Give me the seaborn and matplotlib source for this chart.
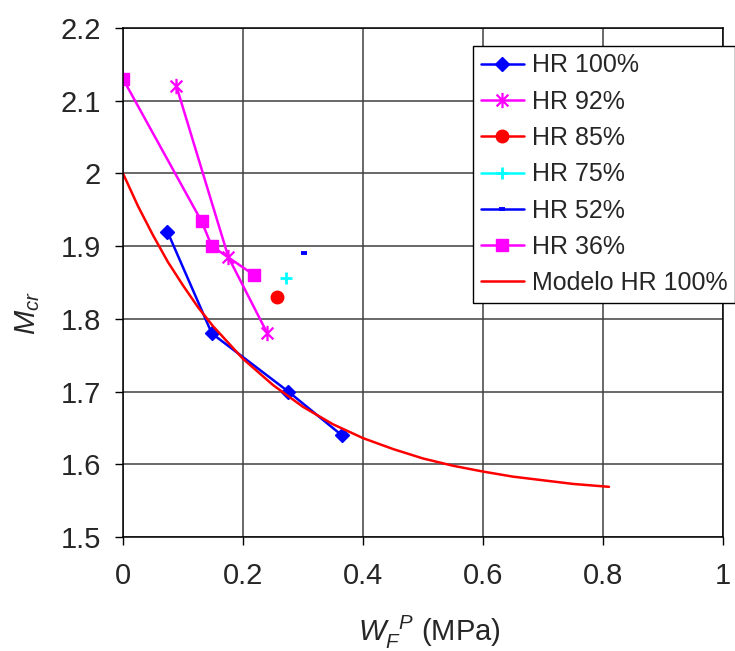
import numpy as np
import matplotlib
matplotlib.use("Agg")
import matplotlib.pyplot as plt
import seaborn as sns
from matplotlib.path import Path
from matplotlib.ticker import FuncFormatter

# ---- data ----
hr100_x = [0.074, 0.148, 0.2755, 0.3645]
hr100_y = [1.92, 1.78, 1.70, 1.64]

hr92_x = [0.089, 0.1756, 0.2406]
hr92_y = [2.12, 1.885, 1.78]

hr85_x = [0.257]
hr85_y = [1.83]

hr75_x = [0.271]
hr75_y = [1.856]

hr52_x = [0.302]
hr52_y = [1.89]

hr36_x = [0.0, 0.131, 0.148, 0.219]
hr36_y = [2.13, 1.934, 1.90, 1.86]

model_x = [0.0, 0.025, 0.05, 0.075, 0.1, 0.125, 0.15, 0.2, 0.25, 0.3, 0.35,
           0.4, 0.45, 0.5, 0.55, 0.6, 0.65, 0.7, 0.75, 0.81]
model_y = [2.000, 1.955, 1.915, 1.878, 1.846, 1.816, 1.790, 1.745, 1.709, 1.679,
           1.655, 1.636, 1.621, 1.608, 1.598, 1.590, 1.583, 1.578, 1.573, 1.569]

labels = ["HR 100%", "HR 92%", "HR 85%", "HR 75%", "HR 52%", "HR 36%", "Modelo HR 100%"]
x_ticks = [0, 0.2, 0.4, 0.6, 0.8, 1.0]
y_ticks = [1.5, 1.6, 1.7, 1.8, 1.9, 2.0, 2.1, 2.2]

# ---- style ----
sns.set_style("white")
plt.rcParams["font.family"] = ["Liberation Sans", "DejaVu Sans"]
plt.rcParams["mathtext.fontset"] = "custom"
plt.rcParams["mathtext.rm"] = "Liberation Sans"
plt.rcParams["mathtext.it"] = "Liberation Sans:italic"

fig = plt.figure(figsize=(7.35, 6.51), dpi=100)
ax = fig.add_axes([123 / 735, 1 - 537 / 651, 600 / 735, 509 / 651])

# asterisk marker: X plus vertical bar
ast = Path([(-1, -1), (1, 1), (-1, 1), (1, -1), (0, -1.3), (0, 1.3)],
           [Path.MOVETO, Path.LINETO, Path.MOVETO, Path.LINETO, Path.MOVETO, Path.LINETO])

lw = 1.8
blue, mag, red, cyan = "#0000FF", "#FF00FF", "#FF0000", "#00FFFF"

sns.lineplot(x=hr100_x, y=hr100_y, sort=False, ax=ax, color=blue, lw=lw, marker="D",
             ms=7.5, mec=blue, mfc=blue, mew=1, label=labels[0])
sns.lineplot(x=hr92_x, y=hr92_y, sort=False, ax=ax, color=mag, lw=lw, marker=ast,
             ms=11, mec=mag, mfc="none", mew=1.6, label=labels[1])
sns.lineplot(x=hr85_x, y=hr85_y, sort=False, ax=ax, color=red, lw=lw, marker="o",
             ms=9, mec=red, mfc=red, mew=1, label=labels[2])
sns.lineplot(x=hr75_x, y=hr75_y, sort=False, ax=ax, color=cyan, lw=lw, marker="+",
             ms=9, mec=cyan, mew=2, label=labels[3])
sns.lineplot(x=hr52_x, y=hr52_y, sort=False, ax=ax, color=blue, lw=lw, marker="_",
             ms=5, mec=blue, mew=2.8, label=labels[4])
sns.lineplot(x=hr36_x, y=hr36_y, sort=False, ax=ax, color=mag, lw=lw, marker="s",
             ms=9, mec=mag, mfc=mag, mew=1, label=labels[5])
sns.lineplot(x=model_x, y=model_y, sort=False, ax=ax, color=red, lw=lw,
             label=labels[6])

ax.set_xlim(0, 1)
ax.set_ylim(1.5, 2.2)
ax.set_xticks(x_ticks)
ax.set_yticks(y_ticks)
ax.xaxis.set_major_formatter(FuncFormatter(lambda v, p: f"{v:g}"))
ax.yaxis.set_major_formatter(FuncFormatter(lambda v, p: f"{v:g}"))
ax.tick_params(axis="both", which="major", labelsize=21, direction="out",
               length=6, width=1, color="black", left=True, bottom=True)
ax.tick_params(axis="x", pad=12)
ax.tick_params(axis="y", pad=10)

ax.grid(True, color="#404040", lw=1.1)
ax.set_axisbelow(True)
for s in ax.spines.values():
    s.set_visible(True)
    s.set_color("black")
    s.set_linewidth(1.1)

ax.set_xlabel(r"$W_{F}^{\ \ P}$ (MPa)", fontsize=21)
ax.set_ylabel(r"$M_{cr}$", fontsize=21)
ax.xaxis.set_label_coords(0.51, -0.15)
ax.yaxis.set_label_coords(-0.135, 0.44)

leg = ax.legend(loc="upper left", bbox_to_anchor=(473 / 735, 1 - 46 / 651),
                bbox_transform=fig.transFigure, borderaxespad=0, fontsize=18,
                frameon=True, fancybox=False, edgecolor="black", framealpha=1,
                handlelength=1.75, handletextpad=0.3, labelspacing=0.49,
                borderpad=0.3)
leg.get_frame().set_linewidth(1.0)

fig.savefig("out.png", dpi=100)
